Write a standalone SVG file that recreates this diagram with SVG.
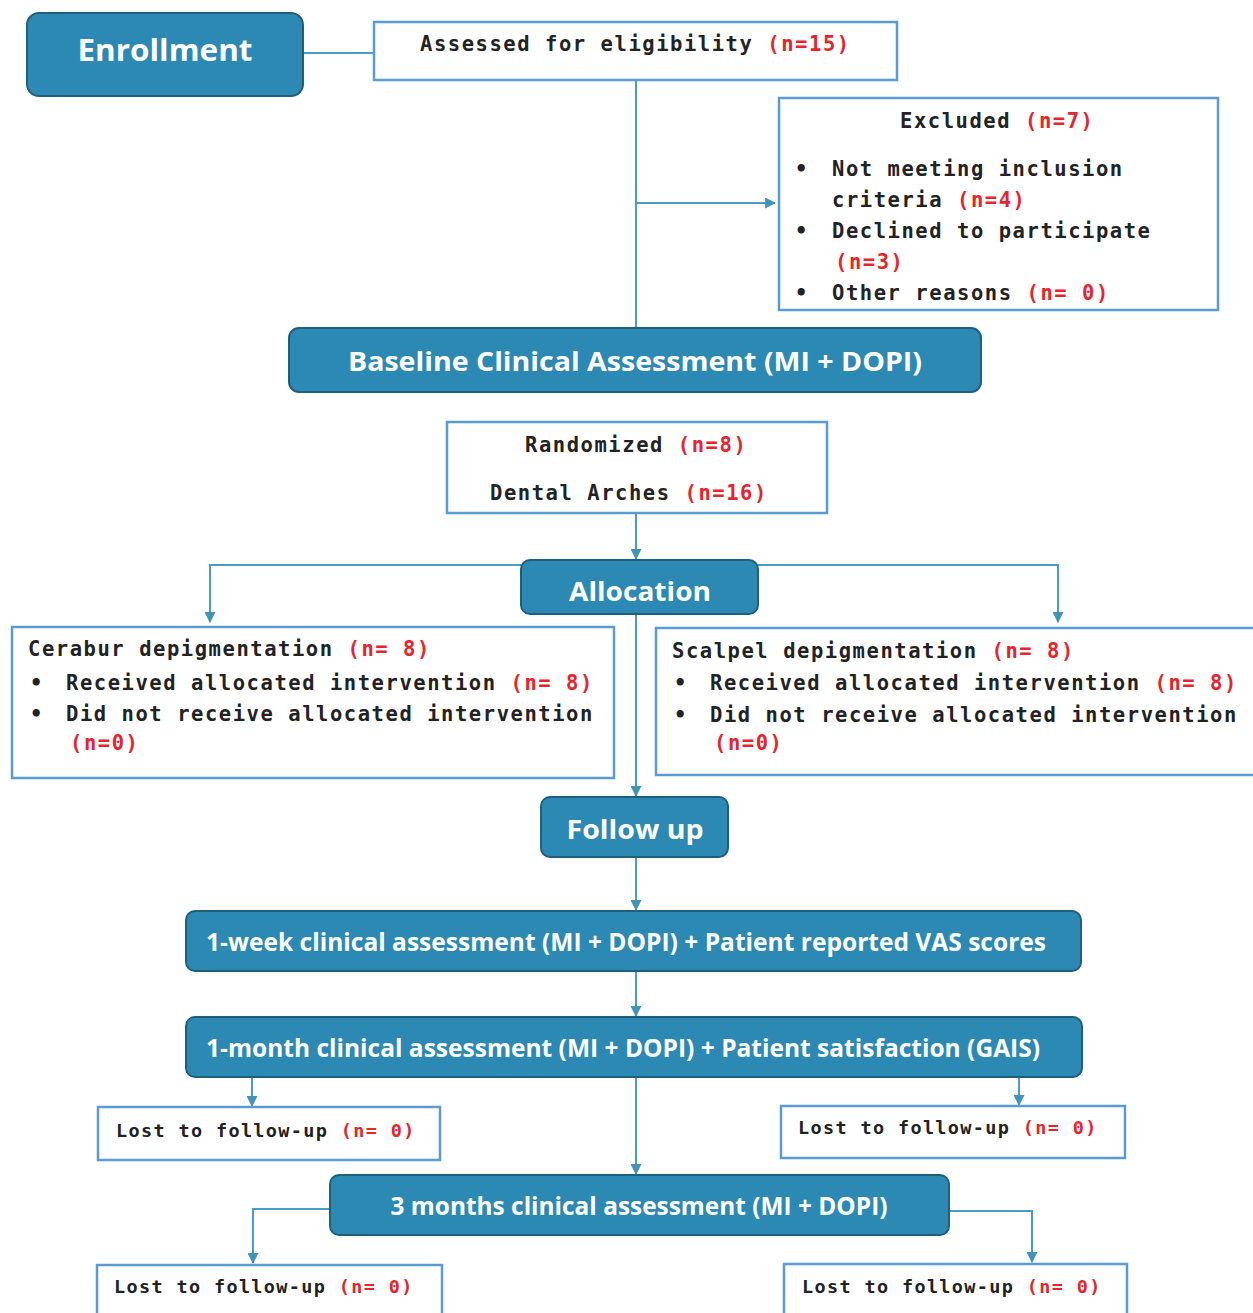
<svg xmlns="http://www.w3.org/2000/svg" width="1253" height="1313" viewBox="0 0 1253 1313">
<defs>
<marker id="arr" viewBox="0 0 10 10" refX="9" refY="5" markerWidth="11" markerHeight="11" markerUnits="userSpaceOnUse" orient="auto">
<path d="M0,0 L10,5 L0,10 z" fill="#3f94b8"/>
</marker>
<style>
.hdr{fill:#2b89b4;stroke:#1f5f7c;stroke-width:2}
.box{fill:#fff;stroke:#5b9bd3;stroke-width:2.5}
.ht{font-family:"Open Sans","Noto Sans",sans-serif;font-weight:bold;fill:#fff;text-anchor:middle}
.m{font-family:"DejaVu Sans Mono","Liberation Mono",monospace;font-weight:bold;font-size:20.5px;letter-spacing:1.55px;fill:#222}
.ms{font-family:"DejaVu Sans Mono","Liberation Mono",monospace;font-weight:bold;font-size:18.5px;letter-spacing:1.35px;fill:#222}
.r{fill:#e8232c}
.c{fill:none;stroke:#4a9cc0;stroke-width:2}
</style>
</defs>
<g id="connectors">
<path class="c" d="M303,53 H374"/>
<path class="c" d="M636,80 V328"/>
<path class="c" d="M636,203 H775" marker-end="url(#arr)"/>
<path class="c" d="M636,513 V559" marker-end="url(#arr)"/>
<path class="c" d="M521,565 H210 V622" marker-end="url(#arr)"/>
<path class="c" d="M758,565 H1058 V622" marker-end="url(#arr)"/>
<path class="c" d="M636,614 V796" marker-end="url(#arr)"/>
<path class="c" d="M636,857 V910" marker-end="url(#arr)"/>
<path class="c" d="M636,971 V1016" marker-end="url(#arr)"/>
<path class="c" d="M252,1077 V1106" marker-end="url(#arr)"/>
<path class="c" d="M1019,1077 V1105" marker-end="url(#arr)"/>
<path class="c" d="M636,1077 V1174" marker-end="url(#arr)"/>
<path class="c" d="M330,1209 H253 V1263" marker-end="url(#arr)"/>
<path class="c" d="M949,1211 H1032 V1262" marker-end="url(#arr)"/>
</g>
<g id="enrollment">
<rect class="hdr" x="27" y="13" width="276" height="83" rx="12"/>
<text class="ht" x="165" y="61" font-size="30" textLength="175" lengthAdjust="spacingAndGlyphs">Enrollment</text>
</g>
<g id="assessed">
<rect class="box" x="374" y="22" width="523" height="58"/>
<text class="m" x="420" y="51">Assessed for eligibility <tspan class="r">(n=15)</tspan></text>
</g>
<g id="excluded">
<rect class="box" x="779" y="98" width="439" height="212"/>
<text class="m" x="900" y="128">Excluded <tspan class="r">(n=7)</tspan></text>
<text class="m" x="795" y="176">•</text>
<text class="m" x="832" y="176">Not meeting inclusion</text>
<text class="m" x="832" y="207">criteria <tspan class="r">(n=4)</tspan></text>
<text class="m" x="795" y="238">•</text>
<text class="m" x="832" y="238">Declined to participate</text>
<text class="m r" x="835" y="269">(n=3)</text>
<text class="m" x="795" y="300">•</text>
<text class="m" x="832" y="300">Other reasons <tspan class="r">(n= 0)</tspan></text>
</g>
<g id="baseline">
<rect class="hdr" x="289" y="328" width="692" height="64" rx="10"/>
<text class="ht" x="635" y="371" font-size="27" textLength="574" lengthAdjust="spacingAndGlyphs">Baseline Clinical Assessment (MI + DOPI)</text>
</g>
<g id="randomized">
<rect class="box" x="447" y="422" width="380" height="91"/>
<text class="m" x="525" y="452">Randomized <tspan class="r">(n=8)</tspan></text>
<text class="m" x="490" y="500">Dental Arches <tspan class="r">(n=16)</tspan></text>
</g>
<g id="allocation">
<rect class="hdr" x="521" y="560" width="237" height="54" rx="9"/>
<text class="ht" x="640" y="601" font-size="27" textLength="142" lengthAdjust="spacingAndGlyphs">Allocation</text>
</g>
<g id="cerabur">
<rect class="box" x="12" y="627" width="602" height="151"/>
<text class="m" x="28" y="656">Cerabur depigmentation <tspan class="r">(n= 8)</tspan></text>
<text class="m" x="30" y="690">•</text>
<text class="m" x="66" y="690">Received allocated intervention <tspan class="r">(n= 8)</tspan></text>
<text class="m" x="30" y="721">•</text>
<text class="m" x="66" y="721">Did not receive allocated intervention</text>
<text class="m r" x="70" y="750">(n=0)</text>
</g>
<g id="scalpel">
<rect class="box" x="656" y="628" width="600" height="147"/>
<text class="m" x="672" y="658">Scalpel depigmentation <tspan class="r">(n= 8)</tspan></text>
<text class="m" x="674" y="690">•</text>
<text class="m" x="710" y="690">Received allocated intervention <tspan class="r">(n= 8)</tspan></text>
<text class="m" x="674" y="722">•</text>
<text class="m" x="710" y="722">Did not receive allocated intervention</text>
<text class="m r" x="714" y="750">(n=0)</text>
</g>
<g id="followup">
<rect class="hdr" x="541" y="797" width="187" height="60" rx="9"/>
<text class="ht" x="635" y="839" font-size="27" textLength="137" lengthAdjust="spacingAndGlyphs">Follow up</text>
</g>
<g id="week1">
<rect class="hdr" x="186" y="911" width="895" height="60" rx="9"/>
<text class="ht" x="626" y="951" font-size="25" textLength="840" lengthAdjust="spacingAndGlyphs">1-week clinical assessment (MI + DOPI) + Patient reported VAS scores</text>
</g>
<g id="month1">
<rect class="hdr" x="186" y="1017" width="896" height="60" rx="9"/>
<text class="ht" x="623" y="1057" font-size="25" textLength="834" lengthAdjust="spacingAndGlyphs">1-month clinical assessment (MI + DOPI) + Patient satisfaction (GAIS)</text>
</g>
<g id="lost1-left">
<rect class="box" x="98" y="1107" width="342" height="53"/>
<text class="ms" x="116" y="1137">Lost to follow-up <tspan class="r">(n= 0)</tspan></text>
</g>
<g id="lost1-right">
<rect class="box" x="781" y="1106" width="344" height="52"/>
<text class="ms" x="798" y="1134">Lost to follow-up <tspan class="r">(n= 0)</tspan></text>
</g>
<g id="month3">
<rect class="hdr" x="330" y="1175" width="619" height="60" rx="9"/>
<text class="ht" x="639" y="1215" font-size="25" textLength="497" lengthAdjust="spacingAndGlyphs">3 months clinical assessment (MI + DOPI)</text>
</g>
<g id="lost2-left">
<rect class="box" x="97" y="1265" width="345" height="60"/>
<text class="ms" x="114" y="1293">Lost to follow-up <tspan class="r">(n= 0)</tspan></text>
</g>
<g id="lost2-right">
<rect class="box" x="784" y="1264" width="343" height="60"/>
<text class="ms" x="802" y="1293">Lost to follow-up <tspan class="r">(n= 0)</tspan></text>
</g>
</svg>
